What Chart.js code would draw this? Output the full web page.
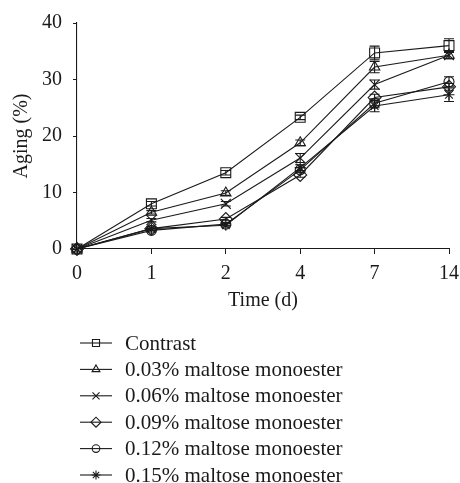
<!DOCTYPE html>
<html>
<head>
<meta charset="utf-8">
<script src="https://cdn.jsdelivr.net/npm/chart.js@4"></script>
<style>
  html, body { margin: 0; padding: 0; background: #fff; }
  #wrap { width: 460px; height: 483px; }
</style>
</head>
<body>
<div id="wrap"><canvas id="chart" width="460" height="483"></canvas></div>
<script>
// storage time (days) on the x axis
const days = ["0", "1", "2", "4", "7", "14"];

// aging (%) per group
const contrast = [0, 8.0, 13.5, 23.3, 34.7, 36.0];
const ester003 = [0, 6.5, 9.9, 18.8, 32.2, 34.3];
const ester006 = [0, 5.1, 8.0, 16.1, 29.1, 34.3];
const ester009 = [0, 3.6, 5.3, 13.1, 26.8, 28.7];
const ester012 = [0, 3.3, 4.4, 14.0, 25.8, 29.6];
const ester015 = [0, 3.6, 4.2, 14.4, 25.3, 27.3];

// standard deviations
const contrastErr = [0, 0.4, 0.4, 0.4, 1.2, 1.2];
const ester003Err = [0, 0.3, 0.4, 0.5, 1.0, 0.6];
const ester006Err = [0, 0.3, 0.4, 0.8, 0.8, 0.6];
const ester009Err = [0, 0.3, 0.3, 0.4, 0.6, 0.6];
const ester012Err = [0, 0.3, 0.3, 0.4, 0.8, 0.9];
const ester015Err = [0, 0.3, 0.3, 0.5, 1.0, 1.2];

const yTicks = [0, 10, 20, 30, 40];

const INK = "#1a1a1a";
const FONT = "'Liberation Serif', 'DejaVu Serif', serif";

function series(label, data, errors, style, radius, legendRadius) {
    return {
        label: label,
        data: data,
        errors: errors,
        borderColor: INK,
        borderWidth: 1.1,
        backgroundColor: "rgba(0,0,0,0)",
        pointStyle: style,
        pointRadius: radius,
        pointHoverRadius: radius,
        pointBorderColor: INK,
        pointBorderWidth: 1.1,
        pointBackgroundColor: "rgba(0,0,0,0)",
        legendRadius: legendRadius,
        tension: 0,
        clip: false,
    };
}

const datasets = [
    series("Contrast", contrast, contrastErr, "rect", 7, 5),
    series("0.03% maltose monoester", ester003, ester003Err, "triangle", 6, 4.5),
    series("0.06% maltose monoester", ester006, ester006Err, "crossRot", 7, 5),
    series("0.09% maltose monoester", ester009, ester009Err, "rectRot", 6.5, 5),
    series("0.12% maltose monoester", ester012, ester012Err, "circle", 5, 3.8),
    series("0.15% maltose monoester", ester015, ester015Err, "star", 5.5, 4.5),
];

// vertical error bars with short caps
const errorBars = {
    id: "errorBars",
    afterDatasetsDraw(chart) {
        const ctx = chart.ctx;
        const yScale = chart.scales.y;
        ctx.save();
        ctx.strokeStyle = INK;
        ctx.lineWidth = 1.1;
        chart.data.datasets.forEach((ds, i) => {
            const meta = chart.getDatasetMeta(i);
            meta.data.forEach((pt, j) => {
                const e = ds.errors[j];
                if (!e) return;
                const top = yScale.getPixelForValue(ds.data[j] + e);
                const bot = yScale.getPixelForValue(ds.data[j] - e);
                ctx.beginPath();
                ctx.moveTo(pt.x, top);
                ctx.lineTo(pt.x, bot);
                ctx.moveTo(pt.x - 5, top);
                ctx.lineTo(pt.x + 5, top);
                ctx.moveTo(pt.x - 5, bot);
                ctx.lineTo(pt.x + 5, bot);
                ctx.stroke();
            });
        });
        ctx.restore();
    },
};

// single-column legend under the x axis title
const columnLegend = {
    id: "columnLegend",
    afterDraw(chart) {
        const ctx = chart.ctx;
        const x0 = 80, x1 = 112, textX = 125;
        const firstRow = 343, rowGap = 26.4;
        ctx.save();
        ctx.font = "21px " + FONT;
        ctx.textBaseline = "middle";
        chart.data.datasets.forEach((ds, i) => {
            const y = firstRow + i * rowGap;
            ctx.strokeStyle = INK;
            ctx.lineWidth = 1.1;
            ctx.beginPath();
            ctx.moveTo(x0, y);
            ctx.lineTo(x1, y);
            ctx.stroke();
            // hollow marker, the line shows through it
            ctx.fillStyle = "rgba(0,0,0,0)";
            Chart.helpers.drawPoint(ctx, {
                pointStyle: ds.pointStyle,
                radius: ds.legendRadius,
                borderWidth: 1.1,
            }, (x0 + x1) / 2, y);
            ctx.fillStyle = INK;
            ctx.fillText(ds.label, textX, y + 1);
        });
        ctx.restore();
    },
};

new Chart(document.getElementById("chart"), {
    type: "line",
    data: { labels: days, datasets: datasets },
    plugins: [errorBars, columnLegend],
    options: {
        responsive: false,
        animation: false,
        events: [],
        layout: { padding: { left: 0, right: 11, top: 22, bottom: 170 } },
        plugins: {
            legend: { display: false },
            tooltip: { enabled: false },
        },
        scales: {
            x: {
                type: "category",
                offset: false,
                grid: { drawOnChartArea: false, drawTicks: true, tickLength: 5, color: INK },
                border: { display: true, color: INK, width: 1.1 },
                ticks: { color: INK, font: { family: FONT, size: 20 }, padding: 8, maxRotation: 0 },
                title: { display: true, text: "Time (d)", color: INK, font: { family: FONT, size: 20 }, padding: { top: 2, bottom: 0 } },
                afterFit: (s) => {
                    s.height = 64;
                    // edge labels may overhang; keep the plot edges fixed
                    s.paddingLeft = 0;
                    s.paddingRight = 0;
                },
            },
            y: {
                min: 0,
                max: 40,
                afterBuildTicks: (s) => { s.ticks = yTicks.map((v) => ({ value: v })); },
                grid: { drawOnChartArea: false, drawTicks: true, tickLength: 4, color: INK },
                border: { display: true, color: INK, width: 1.1 },
                ticks: { color: INK, font: { family: FONT, size: 20 }, padding: 11 },
                title: { display: true, text: "Aging (%)", color: INK, font: { family: FONT, size: 20 }, padding: { top: 10, bottom: 0 } },
                afterFit: (s) => { s.width = 77; },
            },
        },
    },
});
</script>
</body>
</html>
